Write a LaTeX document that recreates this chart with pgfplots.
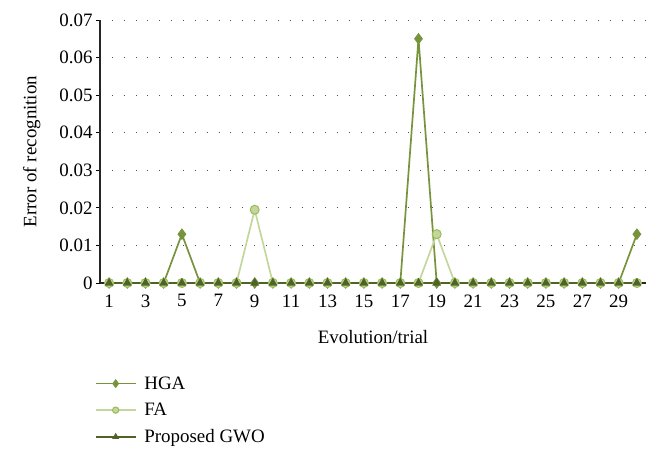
\documentclass[border=0pt]{standalone}
\usepackage{fontspec}
\setmainfont{Liberation Serif}
\usepackage{pgfplots}
\pgfplotsset{compat=1.18}
\definecolor{hga}{RGB}{119,147,60}
\definecolor{fa}{RGB}{195,214,155}
\definecolor{faedge}{RGB}{155,187,89}
\definecolor{gwo}{RGB}{79,98,40}
\begin{document}
\begin{tikzpicture}
\path[use as bounding box] (-100bp,-179bp) rectangle (560bp,283bp);
\begin{axis}[
  at={(0,0)}, anchor=south west,
  scale only axis, width=546bp, height=263bp,
  xmin=0.5, xmax=30.5, ymin=0, ymax=0.07,
  scaled y ticks=false,
  xtick={1,3,...,29}, ytick={0,0.01,...,0.07},
  yticklabels={0,0.01,0.02,0.03,0.04,0.05,0.06,0.07},
  axis x line*=bottom, axis y line*=left,
  x axis line style={-, line width=1.2pt, draw=black!85},
  y axis line style={-, line width=1.2pt, draw=black!85},
  x tick style={draw=none},
  y tick style={black, line width=0.8pt},
  tick align=outside, major tick length=4bp,
  ymajorgrids, major grid style={black!70, line width=0.9pt, dash pattern=on 0.9pt off 11pt},
  tick label style={font=\fontsize{19}{21}\selectfont},
  xticklabel style={yshift=-4bp},
  label style={font=\fontsize{19}{21}\selectfont},
  xlabel={Evolution/trial}, ylabel={Error of recognition},
  xlabel style={yshift=-16bp}, ylabel style={yshift=12bp},
  /pgf/number format/assume math mode=true,
  legend style={at={(-0.015,-0.34)}, anchor=north west, draw=none, fill=none,
    font=\fontsize{19}{21}\selectfont, row sep=8.5bp,
    legend cell align=left,
    nodes={inner xsep=8bp}},
  legend image code/.code={
    \draw[mark repeat=2,mark phase=2,#1,every mark/.append style={scale=0.7}]
      plot coordinates {(0cm,0cm) (0.7cm,0cm) (1.4cm,0cm)};},
]
\addplot[hga, line width=1.7pt, mark=diamond*, mark size=4.5bp,
  mark options={fill=hga, draw=hga}] coordinates {
(1,0)(2,0)(3,0)(4,0)(5,0.013)(6,0)(7,0)(8,0)(9,0)(10,0)
(11,0)(12,0)(13,0)(14,0)(15,0)(16,0)(17,0)(18,0.065)(19,0)(20,0)
(21,0)(22,0)(23,0)(24,0)(25,0)(26,0)(27,0)(28,0)(29,0)(30,0.013)};
\addlegendentry{HGA}
\addplot[fa, line width=1.7pt, mark=*, mark size=4.5bp,
  mark options={fill=fa, draw=faedge, line width=1pt}] coordinates {
(1,0)(2,0)(3,0)(4,0)(5,0)(6,0)(7,0)(8,0)(9,0.0195)(10,0)
(11,0)(12,0)(13,0)(14,0)(15,0)(16,0)(17,0)(18,0)(19,0.013)(20,0)
(21,0)(22,0)(23,0)(24,0)(25,0)(26,0)(27,0)(28,0)(29,0)(30,0)};
\addlegendentry{FA}
\addplot[gwo, line width=1.7pt, mark=triangle*, mark size=3.5bp,
  mark options={fill=gwo, draw=gwo}] coordinates {
(1,0)(2,0)(3,0)(4,0)(5,0)(6,0)(7,0)(8,0)(9,0)(10,0)
(11,0)(12,0)(13,0)(14,0)(15,0)(16,0)(17,0)(18,0)(19,0)(20,0)
(21,0)(22,0)(23,0)(24,0)(25,0)(26,0)(27,0)(28,0)(29,0)(30,0)};
\addlegendentry{Proposed GWO}
\end{axis}
\end{tikzpicture}
\end{document}
